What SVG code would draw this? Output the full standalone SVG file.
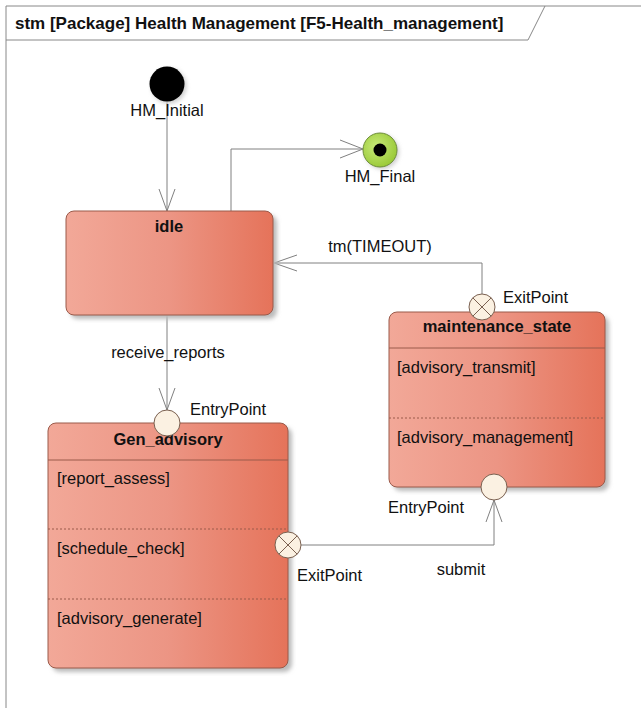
<svg xmlns="http://www.w3.org/2000/svg" width="641" height="708" viewBox="0 0 641 708">
<defs>
<linearGradient id="g" x1="0" y1="0" x2="1" y2="0">
<stop offset="0" stop-color="#F2A898"/>
<stop offset="0.5" stop-color="#EC9584"/>
<stop offset="1" stop-color="#E5735A"/>
</linearGradient>
<radialGradient id="gg" cx="0.4" cy="0.4" r="0.6">
<stop offset="0" stop-color="#C8EA7A"/>
<stop offset="1" stop-color="#9CCB3A"/>
</radialGradient>
<filter id="sh" x="-10%" y="-10%" width="130%" height="130%">
<feGaussianBlur stdDeviation="2"/>
</filter>
</defs>
<style>
text{font-family:"Liberation Sans",Arial,sans-serif;font-size:16.5px;fill:#111}
.b{font-weight:bold}
.st{fill:url(#g);stroke:#9A5A4A;stroke-width:1}
.shd{fill:#BBBBBB;filter:url(#sh)}
.sep{stroke:#9A5A4A;stroke-width:1}
.dot{stroke:#9A5A4A;stroke-width:1;stroke-dasharray:2,2}
.pt{fill:#FBF1E2;stroke:#7A6050;stroke-width:1}
.cn{fill:none;stroke:#808080;stroke-width:1}
.ah{fill:none;stroke:#808080;stroke-width:1}
</style>
<rect width="641" height="708" fill="#fff"/>
<g id="frame">
<path d="M6,708 V6 H641" fill="none" stroke="#888" stroke-width="1"/>
<path d="M6,40 H528 L545,6" fill="none" stroke="#888" stroke-width="1"/>
<text x="15" y="29" class="b" style="font-size:17px">stm [Package] Health Management [F5-Health_management]</text>
</g>
<g id="connectors">
<path class="cn" d="M167,102 V211"/>
<path class="ah" d="M159,189 L167,211 L175,189"/>
<path class="cn" d="M231,211 V149 H363"/>
<path class="ah" d="M340,140 L363,149 L340,158"/>
<path class="cn" d="M482,294 V263 H274"/>
<path class="ah" d="M297,255 L274,263 L297,271"/>
<path class="cn" d="M167,315 V410"/>
<path class="ah" d="M159,388 L167,410 L175,388"/>
<path class="cn" d="M301,545 H494 V500"/>
<path class="ah" d="M486,522 L494,500 L502,522"/>
<text x="168" y="358" text-anchor="middle">receive_reports</text>
<text x="380" y="252" text-anchor="middle">tm(TIMEOUT)</text>
<text x="461" y="575" text-anchor="middle">submit</text>
</g>
<g id="HM_Initial">
<circle cx="169" cy="86" r="17.5" fill="#ccc" filter="url(#sh)"/>
<circle cx="167" cy="84" r="17.5" fill="#000"/>
<text x="167" y="116" text-anchor="middle">HM_Initial</text>
</g>
<g id="HM_Final">
<circle cx="382" cy="152" r="17" fill="#ccc" filter="url(#sh)"/>
<circle cx="380" cy="150" r="17" fill="url(#gg)" stroke="#6E8E3A" stroke-width="1"/>
<circle cx="380" cy="150" r="6.5" fill="#000"/>
<text x="380" y="182" text-anchor="middle">HM_Final</text>
</g>
<g id="idle">
<rect class="shd" x="70" y="215" width="207" height="104" rx="8"/>
<rect class="st" x="66" y="211" width="207" height="104" rx="8"/>
<text x="169" y="232" text-anchor="middle" class="b">idle</text>
</g>
<g id="maintenance_state">
<rect class="shd" x="393" y="316" width="216" height="175" rx="8"/>
<rect class="st" x="389" y="312" width="216" height="175" rx="8"/>
<text x="497" y="332" text-anchor="middle" class="b">maintenance_state</text>
<line class="sep" x1="389" y1="348" x2="605" y2="348"/>
<text x="397" y="373">[advisory_transmit]</text>
<line class="dot" x1="389" y1="418" x2="605" y2="418"/>
<text x="397" y="443">[advisory_management]</text>
</g>
<g id="maintenance_exit">
<circle class="pt" cx="482" cy="307" r="13"/>
<path d="M472.8,297.8 L491.2,316.2 M491.2,297.8 L472.8,316.2" stroke="#7A6050" stroke-width="1"/>
<text x="503" y="303">ExitPoint</text>
</g>
<g id="maintenance_entry">
<circle class="pt" cx="494" cy="487" r="13"/>
<text x="388" y="513">EntryPoint</text>
</g>
<g id="Gen_advisory">
<rect class="shd" x="52" y="427" width="240" height="245" rx="8"/>
<rect class="st" x="48" y="423" width="240" height="245" rx="8"/>
<text x="168" y="445" text-anchor="middle" class="b">Gen_advisory</text>
<line class="sep" x1="48" y1="460" x2="288" y2="460"/>
<text x="57" y="484">[report_assess]</text>
<line class="dot" x1="48" y1="529" x2="288" y2="529"/>
<text x="57" y="554">[schedule_check]</text>
<line class="dot" x1="48" y1="599" x2="288" y2="599"/>
<text x="57" y="624">[advisory_generate]</text>
</g>
<g id="gen_entry">
<circle class="pt" cx="167" cy="423" r="13"/>
<text x="190" y="415">EntryPoint</text>
</g>
<g id="gen_exit">
<circle class="pt" cx="288" cy="545" r="13"/>
<path d="M278.8,535.8 L297.2,554.2 M297.2,535.8 L278.8,554.2" stroke="#7A6050" stroke-width="1"/>
<text x="297" y="581">ExitPoint</text>
</g>
</svg>
